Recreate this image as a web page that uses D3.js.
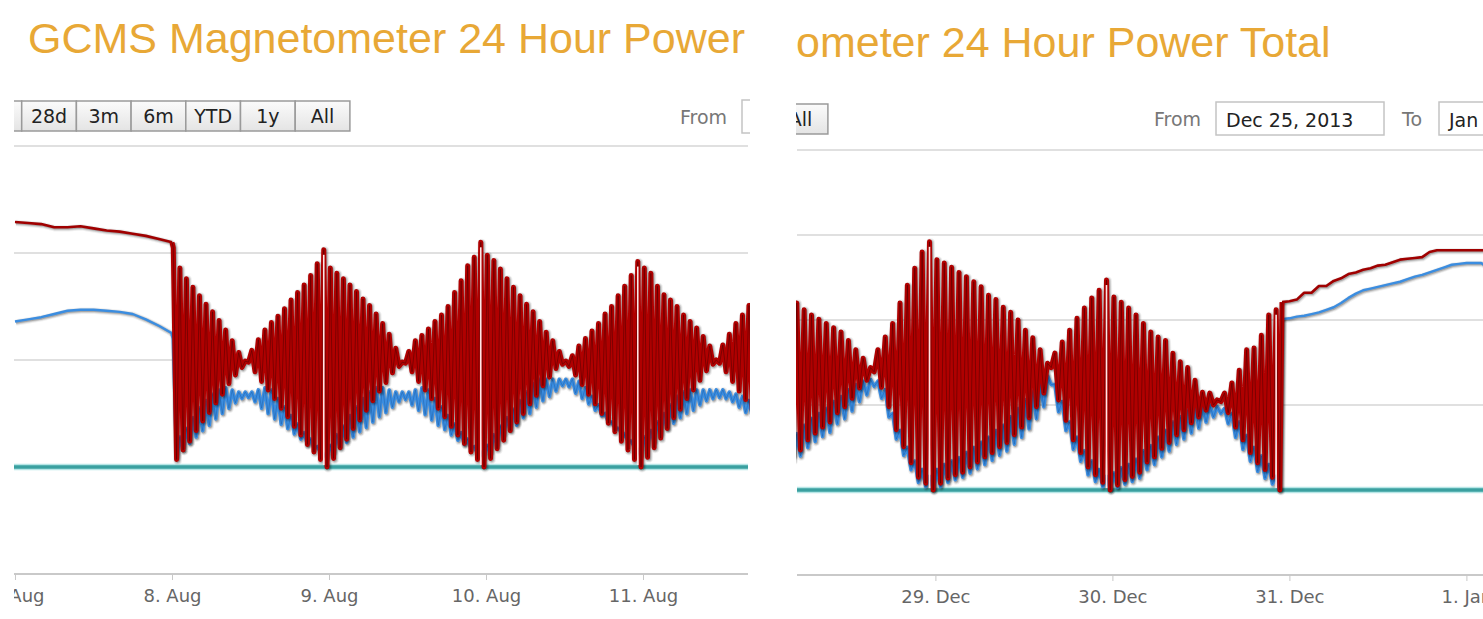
<!DOCTYPE html>
<html>
<head>
<meta charset="utf-8">
<script src="https://cdn.jsdelivr.net/npm/d3@7"></script>
<style>
    body { margin: 0; background: #fff; }
    svg { display: block; }
    .tick text { font-family: "DejaVu Sans", sans-serif; font-size: 18px; fill: #666; }
    .tick line { stroke: #c8c8c8; }
    .ui-text { font-family: "DejaVu Sans", sans-serif; font-size: 19px; }
</style>
</head>
<body>
<div id="chart"></div>
<script>

/* * * * * * * * * * * * * * * * *
*   data  *
* * * * * * * * * * * * * * * * */

const titleText = "GCMS Magnetometer 24 Hour Power Total";
const rangeButtons = ["7d", "28d", "3m", "6m", "YTD", "1y", "All"];

// 7 Aug, smooth readings every 2 hours from 00:00
const aug7Red  = [229, 228, 227, 224, 224, 225, 223, 221, 220, 218, 216, 213, 210];
const aug7Blue = [136, 138, 140, 143, 146, 147, 147, 146, 145, 143, 138, 132, 125];

// from 8 Aug 00:00, one swing per hour (high at :12, low at :42)
const augRedHigh = [205,
    186, 176, 168, 160, 152, 145, 137, 128, 118, 107, 99, 109, 119, 128, 135, 141, 148, 156, 163, 170, 179, 190, 203,
    186, 181, 176, 170, 164, 157, 151, 143, 134, 124, 111, 98, 108, 118, 123, 129, 136, 142, 150, 163, 174, 188, 196, 210,
    198, 193, 185, 176, 168, 160, 152, 145, 136, 126, 118, 108, 99, 104, 113, 120, 127, 134, 143, 150, 160, 169, 179, 192,
    186, 181, 169, 161, 156, 150, 142, 136, 130, 122, 113, 100, 114, 124, 134, 142, 151];
const augRedLow = [
    7, 16, 24, 34, 43, 51, 60, 68, 78, 86, 93, 98, 89, 80, 72, 64, 55, 47, 38, 30, 21, 14, 7, 0,
    8, 18, 26, 36, 44, 53, 62, 71, 79, 88, 94, 97, 89, 80, 72, 64, 55, 47, 38, 30, 22, 14, 7, 0,
    8, 17, 25, 34, 42, 50, 59, 67, 76, 84, 92, 96, 94, 86, 77, 68, 59, 50, 41, 33, 24, 16, 7, 0,
    9, 18, 27, 36, 46, 54, 64, 72, 81, 90, 96, 97, 89, 80, 71, 63, 53];
const augBlueHigh = [120,
    28, 36, 46, 55, 62, 68, 72, 74, 72, 70, 70, 70, 72, 74, 72, 64, 56, 48, 40, 32, 26, 19, 12,
    20, 30, 38, 48, 56, 64, 70, 74, 74, 72, 70, 70, 70, 72, 74, 72, 64, 56, 48, 40, 32, 26, 19, 14,
    20, 30, 38, 46, 54, 62, 70, 78, 82, 82, 82, 82, 82, 82, 80, 74, 66, 58, 50, 42, 36, 30, 24, 16,
    28, 34, 42, 50, 58, 66, 70, 72, 72, 72, 72, 72, 72, 70, 68, 66, 62];
const augBlueLow = [
    9, 16, 22, 28, 34, 39, 45, 50, 55, 60, 64, 65, 61, 55, 50, 45, 40, 36, 31, 26, 21, 18, 14, 9,
    14, 19, 23, 28, 33, 37, 42, 47, 51, 56, 61, 63, 58, 53, 49, 44, 39, 35, 30, 25, 21, 17, 13, 9,
    14, 21, 31, 35, 39, 46, 50, 56, 62, 66, 71, 76, 75, 69, 64, 59, 53, 48, 42, 37, 33, 25, 19, 11,
    21, 24, 31, 36, 41, 46, 50, 53, 58, 62, 64, 65, 64, 61, 56, 51, 47];

// from 28 Dec 04:00, one swing per hour
const decRedHigh = [
    226, 220, 212, 206, 201, 196, 191, 186, 176, 165, 155, 144,
    165, 180, 196, 220, 241, 261, 280, 292,
    271, 267, 262, 256, 251, 245, 239, 229, 224, 215, 209, 200, 188, 179, 165, 149,
    161, 174, 188, 202, 214, 226, 235, 247,
    227, 221, 214, 206, 196, 186, 180, 176, 161, 151, 144, 129, 115, 114, 106,
    114, 126, 141, 165, 167, 182, 206, 212];
const decRedLow = [
    41, 47, 59, 67, 74, 80, 91, 98, 108, 120, 129, 139,
    121, 98, 71, 51, 32, 15, 8, 0,
    8, 14, 18, 21, 27, 33, 39, 44, 51, 56, 65, 74, 85, 98, 114, 144,
    106, 82, 59, 44, 27, 18, 9, 0,
    6, 12, 16, 21, 33, 39, 49, 56, 65, 71, 79, 86, 94, 100, 104,
    91, 74, 59, 44, 32, 24, 15, 0];
const decBlueHigh = [
    60, 66, 76, 84, 90, 96, 104, 110, 118, 124, 128, 130,
    128, 118, 90, 70, 50, 34, 24, 16,
    24, 30, 34, 38, 44, 50, 56, 62, 70, 76, 86, 96, 106, 116, 126, 134,
    124, 104, 80, 62, 46, 34, 24, 16,
    20, 26, 30, 36, 46, 52, 62, 70, 80, 86, 94, 100, 100, 100, 98,
    96, 90, 80, 64, 50, 40, 30, 16];
const decBlueLow = [
    35, 40, 50, 57, 63, 68, 78, 84, 93, 104, 112, 122,
    108, 86, 60, 41, 24, 9, 4, 0,
    4, 9, 12, 15, 20, 25, 30, 35, 41, 46, 54, 62, 72, 84, 98, 124,
    92, 70, 48, 34, 18, 10, 4, 0,
    3, 7, 10, 14, 24, 30, 39, 46, 54, 60, 67, 73, 80, 86, 90,
    78, 62, 48, 34, 22, 14, 7, 0];

// hourly from 30 Dec 23:00 (after the swings stop)
const decRedTail = [221, 222, 224, 232, 232, 240, 240, 246, 249, 254, 256, 259, 261, 264, 265,
    268, 271, 272, 273, 274, 280, 282, 282, 282, 282, 282, 282, 282, 282, 282];
const decBlueTail = [201, 202, 204, 205, 207, 209, 212, 215, 220, 226, 231, 235, 237, 239, 241,
    243, 245, 248, 251, 253, 256, 259, 262, 265, 266, 267, 267, 267, 261, 253];

const baseValue = 0;

/* * * * * * * * * * * * * *
*      helpers               *
* * * * * * * * * * * * * */

const HOUR = 3600 * 1000;

function stepSeries(start, stepHours, values) {
    return values.map((v, i) => ({time: new Date(+start + i * stepHours * HOUR), value: v}));
}

function swingSeries(start, highs, lows) {
    let out = [];
    highs.forEach((h, i) => {
        out.push({time: new Date(+start + (i + 0.2) * HOUR), value: h});
        out.push({time: new Date(+start + (i + 0.7) * HOUR), value: lows[i]});
    });
    return out;
}

// tallest swing of each day (where the low hits zero)
function dayPeaks(start, highs, lows) {
    let out = [];
    lows.forEach((l, i) => {
        if (l === 0) out.push({time: new Date(+start + (i + 0.2) * HOUR), value: highs[i]});
    });
    return out;
}

/* * * * * * * * * * * * * *
*      class PowerPanel      *
* * * * * * * * * * * * * */

class PowerPanel {

    constructor(svg, config, series) {
        this.svg = svg;
        this.config = config;
        this.series = series;
        this.formatDay = d3.timeFormat("%-d. %b");
        this.initVis();
    }

    initVis() {
        let vis = this;
        let c = vis.config;

        vis.x = d3.scaleTime()
            .domain(c.xDomain)
            .range([c.left, c.right]);

        vis.y = d3.scaleLinear()
            .domain(c.yDomain)
            .range([c.bottom, c.top]);

        vis.svg.append("clipPath")
            .attr("id", c.id + "-clip")
            .append("rect")
            .attr("x", c.clipLeft)
            .attr("y", 0)
            .attr("width", c.clipRight - c.clipLeft)
            .attr("height", 619);

        vis.g = vis.svg.append("g")
            .attr("clip-path", `url(#${c.id}-clip)`);

        // title (only the part the screenshot shows)
        vis.g.append("text")
            .attr("x", c.titleX)
            .attr("y", c.titleY)
            .attr("font-family", "'Liberation Sans', Arial, sans-serif")
            .attr("font-size", 43)
            .attr("fill", "#E8A836")
            .text(titleText.slice(c.titleFrom, c.titleTo));

        vis.drawRangeSelector();
        vis.drawInputs();

        // grid lines
        let gridValues = d3.range(c.yDomain[0], c.yDomain[1] + 1, 100);
        vis.g.append("g")
            .selectAll("line")
            .data(gridValues)
            .enter()
            .append("line")
            .attr("x1", c.left)
            .attr("x2", c.right)
            .attr("y1", d => vis.y(d))
            .attr("y2", d => vis.y(d))
            .attr("stroke", d => d === c.yDomain[0] ? "#c9c9c9" : "#d6d6d6")
            .attr("stroke-width", d => d === c.yDomain[0] ? 2 : 1.6);

        // x axis
        vis.xAxis = d3.axisBottom(vis.x)
            .ticks(d3.timeDay.every(1))
            .tickFormat(vis.formatDay)
            .tickSize(6)
            .tickPadding(9);

        vis.xAxisGroup = vis.g.append("g")
            .attr("class", "x-axis axis")
            .attr("transform", "translate(0," + vis.y(c.yDomain[0]) + ")")
            .call(vis.xAxis);
        vis.xAxisGroup.select(".domain").remove();

        vis.updateVis();
    }

    drawRangeSelector() {
        let vis = this;
        let c = vis.config;
        let bw = 54.7;

        let grad = vis.svg.append("defs").append("linearGradient")
            .attr("id", c.id + "-btn")
            .attr("x1", 0).attr("y1", 0).attr("x2", 0).attr("y2", 1);
        grad.append("stop").attr("offset", "0%").attr("stop-color", "#fbfbfb");
        grad.append("stop").attr("offset", "100%").attr("stop-color", "#e4e4e4");

        // keep only buttons that reach into the visible strip
        let shown = rangeButtons
            .map((label, i) => ({label: label, x: c.buttonsX + i * bw}))
            .filter(d => d.x + bw > c.clipLeft);

        let btn = vis.g.append("g")
            .selectAll("g")
            .data(shown)
            .enter()
            .append("g")
            .attr("transform", d => `translate(${d.x}, ${c.buttonsY})`);

        btn.append("rect")
            .attr("width", bw)
            .attr("height", 30)
            .attr("fill", `url(#${c.id}-btn)`)
            .attr("stroke", "#9a9a9a")
            .attr("stroke-width", 1.5);

        // a label is printed only if the screenshot shows some of it
        btn.filter(d => d.x + bw / 2 + 8 > c.clipLeft)
            .append("text")
            .attr("class", "ui-text")
            .attr("x", bw / 2)
            .attr("y", 22)
            .attr("text-anchor", "middle")
            .attr("fill", "#222")
            .text(d => d.label);
    }

    drawInputs() {
        let vis = this;
        let c = vis.config;

        c.inputs.forEach(inp => {
            vis.g.append("text")
                .attr("class", "ui-text")
                .attr("x", inp.labelX)
                .attr("y", inp.y + 24)
                .attr("fill", "#777")
                .text(inp.label);

            vis.g.append("rect")
                .attr("x", inp.boxX)
                .attr("y", inp.y)
                .attr("width", 168)
                .attr("height", 33)
                .attr("fill", "#fff")
                .attr("stroke", "#c4c4c4")
                .attr("stroke-width", 1.5);

            if (inp.value) {
                vis.g.append("text")
                    .attr("class", "ui-text")
                    .attr("x", inp.boxX + 10)
                    .attr("y", inp.y + 25)
                    .attr("font-size", 21)
                    .attr("fill", "#222")
                    .text(inp.value);
            }
        });
    }

    drawLine(data, color, width, edge) {
        let vis = this;
        let line = d3.line()
            .x(d => vis.x(d.time))
            .y(d => vis.y(d.value));

        // soft shadow like the original chart library
        [[width + 4, 0.06], [width + 2, 0.12], [width, 0.2]].forEach(s => {
            vis.plot.append("path")
                .datum(data)
                .attr("d", line)
                .attr("transform", "translate(1,1)")
                .attr("fill", "none")
                .attr("stroke", "#000")
                .attr("stroke-opacity", s[1])
                .attr("stroke-width", s[0])
                .attr("stroke-linejoin", "round");
        });

        vis.plot.append("path")
            .datum(data)
            .attr("d", line)
            .attr("fill", "none")
            .attr("stroke", color)
            .attr("stroke-width", width)
            .attr("stroke-linejoin", "round");

        // thin darker core gives the dense swings their streaks
        if (edge) {
            vis.plot.append("path")
                .datum(data)
                .attr("d", line)
                .attr("fill", "none")
                .attr("stroke", edge)
                .attr("stroke-opacity", 0.5)
                .attr("stroke-width", 1)
                .attr("stroke-linejoin", "round");
        }
    }

    updateVis() {
        let vis = this;
        let s = vis.series;

        vis.plot = vis.g.append("g");

        // flat teal series
        let base = vis.x.domain().map(t => ({time: t, value: baseValue}));
        let baseLine = d3.line().x(d => vis.x(d.time)).y(d => vis.y(d.value));
        vis.plot.append("path")
            .datum(base)
            .attr("d", baseLine)
            .attr("stroke", "#b7e6e6")
            .attr("stroke-width", 6.5)
            .attr("fill", "none");
        vis.plot.append("path")
            .datum(base)
            .attr("d", baseLine)
            .attr("stroke", "#3aa0a0")
            .attr("stroke-width", 3.4)
            .attr("fill", "none");

        // steady stretches are a plain line, hourly swings a heavy one
        vis.drawLine(s.blueSteady, "#3b8de0", 2.4);
        vis.drawLine(s.blueSwing, "#3b8de0", 3.6, "#1f5fa8");
        vis.drawLine(s.redSteady, "#a00000", 2.6);
        vis.drawLine(s.redSwing, "#b00000", 5, "#4a0000");

        // pale core of each day's tallest swing
        vis.plot.append("g")
            .selectAll("line")
            .data(s.peaks)
            .enter()
            .append("line")
            .attr("x1", d => vis.x(d.time))
            .attr("x2", d => vis.x(d.time))
            .attr("y1", d => vis.y(d.value) + 5)
            .attr("y2", vis.y(baseValue) - 2)
            .attr("stroke", "#ffe4e4")
            .attr("stroke-width", 1.6);
    }
}

/* * * * * * * * * * * * * *
*      build the page        *
* * * * * * * * * * * * * */

let svg = d3.select("#chart").append("svg")
    .attr("width", 1483)
    .attr("height", 619);

let aug7 = new Date(2013, 7, 7);
let aug8 = new Date(2013, 7, 8);
let dec28 = new Date(2013, 11, 28);

let aug7RedPts = stepSeries(aug7, 2, aug7Red);
let aug7BluePts = stepSeries(aug7, 2, aug7Blue);
let augSeries = {
    redSteady: aug7RedPts,
    redSwing: aug7RedPts.slice(-1).concat(swingSeries(aug8, augRedHigh, augRedLow)),
    blueSteady: aug7BluePts,
    blueSwing: aug7BluePts.slice(-1).concat(swingSeries(aug8, augBlueHigh, augBlueLow)),
    peaks: dayPeaks(aug8, augRedHigh, augRedLow)
};

let decStart = new Date(+dec28 + 4 * HOUR);
let decTailStart = new Date(+dec28 + 71 * HOUR);
let decRedTailPts = stepSeries(decTailStart, 1, decRedTail);
let decBlueTailPts = stepSeries(decTailStart, 1, decBlueTail);
let decSeries = {
    redSteady: decRedTailPts,
    redSwing: swingSeries(decStart, decRedHigh, decRedLow).concat(decRedTailPts.slice(0, 1)),
    blueSteady: decBlueTailPts,
    blueSwing: swingSeries(decStart, decBlueHigh, decBlueLow).concat(decBlueTailPts.slice(0, 1)),
    peaks: dayPeaks(decStart, decRedHigh, decRedLow)
};

let augPanel = new PowerPanel(svg, {
    id: "aug",
    clipLeft: 14, clipRight: 750,
    left: 14, right: 748, top: 146, bottom: 574,
    xDomain: [new Date(2013, 7, 6, 23, 51), new Date(2013, 7, 11, 16, 3)],
    yDomain: [-100, 300],
    titleX: 28, titleY: 53, titleFrom: 0, titleTo: 31,
    buttonsX: -33, buttonsY: 101,
    inputs: [{label: "From", labelX: 680, boxX: 742, y: 100, value: ""}]
}, augSeries);

let decPanel = new PowerPanel(svg, {
    id: "dec",
    clipLeft: 796, clipRight: 1483,
    left: 797, right: 1483, top: 150, bottom: 575,
    xDomain: [new Date(2013, 11, 28, 5, 14), new Date(2014, 0, 1, 2, 15)],
    yDomain: [-100, 400],
    titleX: 796, titleY: 57, titleFrom: 11, titleTo: 37,
    buttonsX: 445, buttonsY: 104,
    inputs: [
        {label: "From", labelX: 1154, boxX: 1216, y: 102, value: "Dec 25, 2013"},
        {label: "To", labelX: 1402, boxX: 1439, y: 102, value: "Jan 1, 2014"}
    ]
}, decSeries);

</script>
</body>
</html>
